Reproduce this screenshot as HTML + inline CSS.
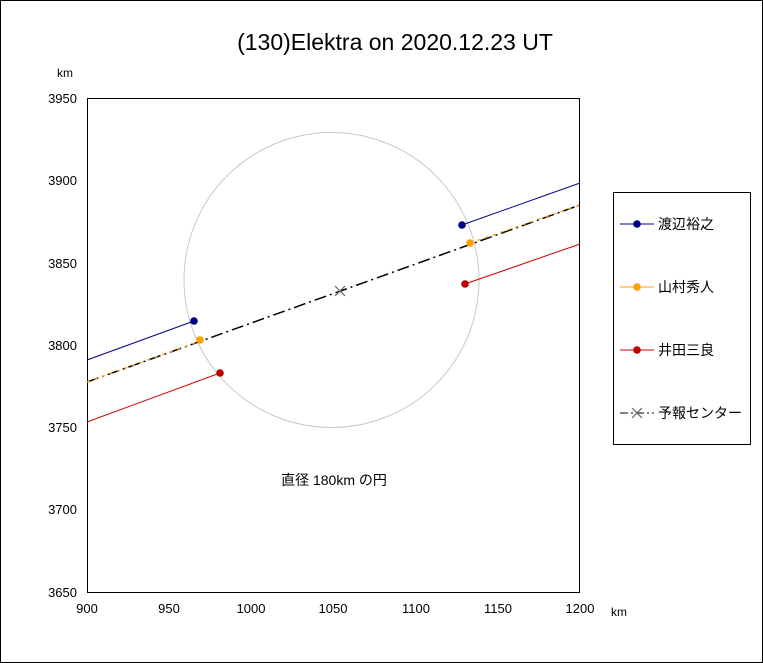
<!DOCTYPE html>
<html><head><meta charset="utf-8"><style>
body{margin:0;background:#fff}
svg{display:block}
text{font-family:"Liberation Sans","Noto Sans CJK JP",sans-serif;fill:#000}
</style></head><body>
<svg width="763" height="663" viewBox="0 0 763 663" xmlns="http://www.w3.org/2000/svg">
<rect x="0.5" y="0.5" width="762" height="662" fill="#fff" stroke="#000"/>
<text x="395" y="50" font-size="23" text-anchor="middle">(130)Elektra on 2020.12.23 UT</text>
<text x="57" y="77" font-size="12">km</text>
<text x="611" y="616" font-size="12">km</text>
<rect x="87.5" y="98.5" width="492" height="494" fill="none" stroke="#000"/>
<g font-size="13" text-anchor="end">
<text x="77" y="103">3950</text><text x="77" y="185">3900</text><text x="77" y="268">3850</text>
<text x="77" y="350">3800</text><text x="77" y="432">3750</text><text x="77" y="514">3700</text><text x="77" y="597">3650</text>
</g>
<g font-size="13" text-anchor="middle">
<text x="87" y="613">900</text><text x="169" y="613">950</text><text x="251" y="613">1000</text>
<text x="333" y="613">1050</text><text x="416" y="613">1100</text><text x="498" y="613">1150</text><text x="580" y="613">1200</text>
</g>
<circle cx="331.5" cy="280" r="147.5" fill="none" stroke="#c8c8c8" stroke-width="1"/>
<line x1="87" y1="360" x2="194" y2="321" stroke="#000080"/>
<line x1="462" y1="225" x2="580" y2="183" stroke="#000080"/>
<line x1="87" y1="422" x2="220" y2="373" stroke="#d00000"/>
<line x1="465" y1="284" x2="580" y2="244" stroke="#d00000"/>
<line x1="87" y1="382" x2="580" y2="205" stroke="#000" stroke-width="1.5" stroke-dasharray="12,4,2,4"/>
<line x1="87" y1="382" x2="200" y2="341" stroke="#ffa000" stroke-width="1.3" stroke-dasharray="3,5"/>
<line x1="470" y1="243" x2="580" y2="205" stroke="#ffa000" stroke-width="1.3" stroke-dasharray="3,5"/>
<circle cx="194" cy="321" r="3.8" fill="#000080"/>
<circle cx="462" cy="225" r="3.8" fill="#000080"/>
<circle cx="200" cy="340" r="3.8" fill="#ffa000"/>
<circle cx="470" cy="243" r="3.8" fill="#ffa000"/>
<circle cx="220" cy="373" r="3.8" fill="#c00000"/>
<circle cx="465" cy="284" r="3.8" fill="#c00000"/>
<path d="M335 286l10 10M345 286l-10 10" stroke="#666" stroke-width="1.2"/>
<text x="334" y="485" font-size="14" text-anchor="middle">直径 180km の円</text>
<rect x="613.5" y="192.5" width="137" height="252" fill="#fff" stroke="#000"/>
<line x1="620" y1="224" x2="654" y2="224" stroke="#000080"/><circle cx="637" cy="224" r="3.8" fill="#000080"/>
<text x="658" y="229" font-size="14">渡辺裕之</text>
<line x1="620" y1="287" x2="654" y2="287" stroke="#ffa000"/><circle cx="637" cy="287" r="3.8" fill="#ffa000"/>
<text x="658" y="292" font-size="14">山村秀人</text>
<line x1="620" y1="350" x2="654" y2="350" stroke="#d00000"/><circle cx="637" cy="350" r="3.8" fill="#c00000"/>
<text x="658" y="355" font-size="14">井田三良</text>
<line x1="620" y1="413" x2="654" y2="413" stroke="#000" stroke-dasharray="8,3,2,3"/>
<path d="M632 408l10 10M642 408l-10 10" stroke="#666" stroke-width="1.2"/>
<text x="658" y="418" font-size="14">予報センター</text>
</svg>
</body></html>
